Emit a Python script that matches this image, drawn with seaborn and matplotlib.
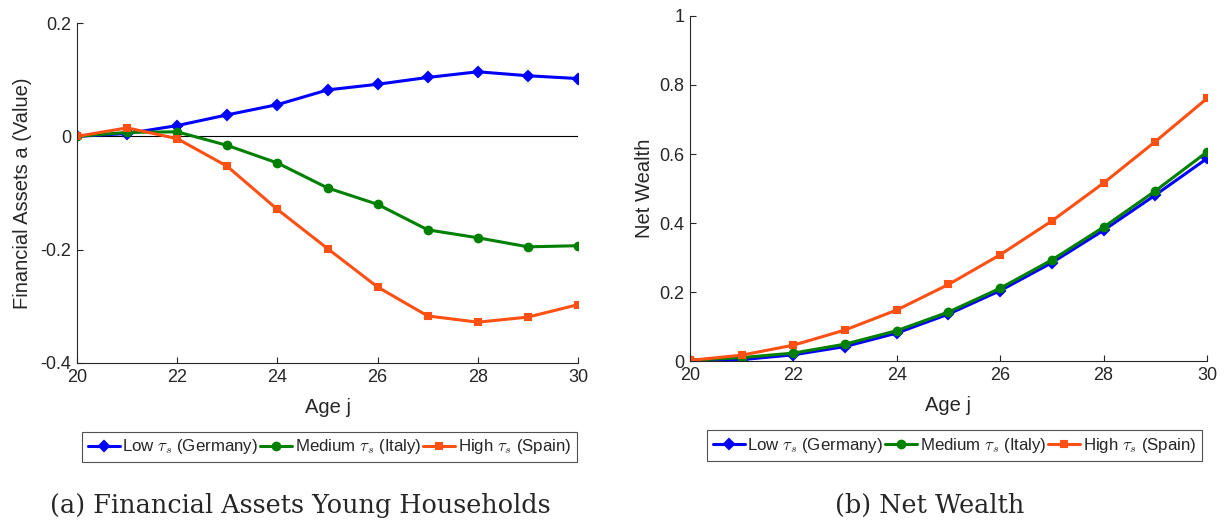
import matplotlib
matplotlib.use("Agg")
import matplotlib.pyplot as plt
import pandas as pd
import seaborn as sns

sns.set_style("white")
plt.rcParams['font.family'] = ['Liberation Sans', 'DejaVu Sans']
plt.rcParams['axes.unicode_minus'] = False
plt.rcParams['mathtext.fontset'] = 'cm'

# data
ages = [20, 21, 22, 23, 24, 25, 26, 27, 28, 29, 30]

assets_low = [0.0, 0.005, 0.019, 0.038, 0.056, 0.082, 0.092, 0.104, 0.114, 0.107, 0.102]
assets_medium = [0.0, 0.007, 0.008, -0.016, -0.047, -0.091, -0.120, -0.165, -0.179, -0.195, -0.193]
assets_high = [0.0, 0.015, -0.004, -0.053, -0.129, -0.198, -0.266, -0.317, -0.328, -0.319, -0.297]

wealth_low = [0.0, 0.004, 0.018, 0.042, 0.081, 0.136, 0.204, 0.285, 0.379, 0.481, 0.587]
wealth_medium = [0.002, 0.010, 0.023, 0.049, 0.088, 0.142, 0.211, 0.293, 0.388, 0.493, 0.606]
wealth_high = [0.002, 0.017, 0.046, 0.090, 0.148, 0.222, 0.308, 0.406, 0.516, 0.636, 0.761]

labels = [r'Low $\tau_s$ (Germany)', r'Medium $\tau_s$ (Italy)', r'High $\tau_s$ (Spain)']
colors = ['#0000ff', '#008000', '#ff5014']
markers = ['D', 'o', 's']
msizes = [5, 5.5, 4.5]


def draw_panel(ax, series, ylabel, yticks, yticklabels, ylim, ypad):
    for vals, lab, c, m, ms in zip(series, labels, colors, markers, msizes):
        df = pd.DataFrame({'age': ages, 'val': vals})
        sns.lineplot(data=df, x='age', y='val', ax=ax, color=c, marker=m,
                     markersize=ms, markeredgecolor=c, markeredgewidth=1.5,
                     linewidth=2.2, label=lab, legend=False)
    ax.set_xlim(20, 30)
    ax.set_ylim(*ylim)
    ax.set_xticks([20, 22, 24, 26, 28, 30])
    ax.set_yticks(yticks)
    ax.set_yticklabels(yticklabels)
    ax.set_xlabel('Age j', fontsize=14.5, color='#262626', labelpad=9)
    ax.set_ylabel(ylabel, fontsize=14.5, color='#262626', labelpad=ypad)
    ax.tick_params(direction='in', length=4, width=0.8, labelsize=13,
                   colors='#262626', bottom=True, left=True, pad=4)
    for s in ['top', 'right']:
        ax.spines[s].set_visible(False)
    for s in ['left', 'bottom']:
        ax.spines[s].set_color('#262626')
        ax.spines[s].set_linewidth(0.8)


fig = plt.figure(figsize=(12.26, 5.24), dpi=100)
ax1 = fig.add_axes([0.0628, 0.3073, 0.4087, 0.6487])
ax2 = fig.add_axes([0.5628, 0.311, 0.4217, 0.6585])

ax1.axhline(0, color='black', linewidth=0.8, zorder=0)
draw_panel(ax1, [assets_low, assets_medium, assets_high],
           'Financial Assets a (Value)',
           [-0.4, -0.2, 0, 0.2], ['-0.4', '-0.2', '0', '0.2'], (-0.4, 0.2), 6)
draw_panel(ax2, [wealth_low, wealth_medium, wealth_high],
           'Net Wealth',
           [0, 0.2, 0.4, 0.6, 0.8, 1], ['0', '0.2', '0.4', '0.6', '0.8', '1'], (0, 1), 4)

for ax, cx, cy in [(ax1, 0.2688, 0.147), (ax2, 0.7786, 0.150)]:
    h, l = ax.get_legend_handles_labels()
    leg = fig.legend(h, l, loc='center', bbox_to_anchor=(cx, cy), ncol=3,
                     fontsize=12.2, frameon=True, fancybox=False,
                     handlelength=1.9, handletextpad=0.15, columnspacing=0.1,
                     borderpad=0.35, borderaxespad=0)
    leg.get_frame().set_edgecolor('#262626')
    leg.get_frame().set_linewidth(0.8)

fig.text(0.245, 0.036, '(a) Financial Assets Young Households', ha='center',
         va='center', fontsize=18.4, family=['DejaVu Serif', 'Liberation Serif'])
fig.text(0.758, 0.036, '(b) Net Wealth', ha='center', va='center',
         fontsize=18.4, family=['DejaVu Serif', 'Liberation Serif'])

fig.savefig('out.png', dpi=100)
